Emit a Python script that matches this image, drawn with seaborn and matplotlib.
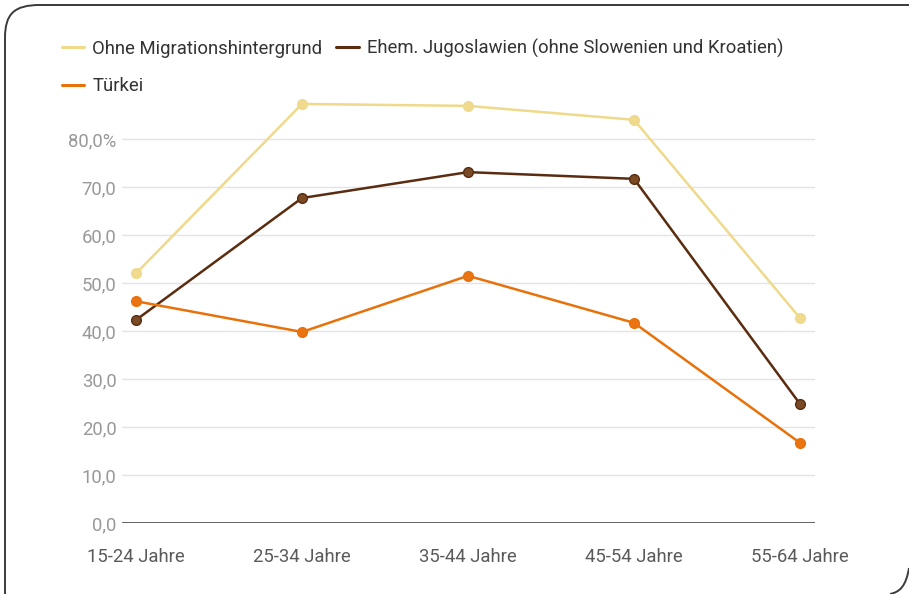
import pandas as pd
import numpy as np
import matplotlib.pyplot as plt
from matplotlib.lines import Line2D
from matplotlib.patches import PathPatch
from matplotlib.path import Path
import seaborn as sns

### Daten
altersgruppen = ["15-24 Jahre", "25-34 Jahre", "35-44 Jahre", "45-54 Jahre", "55-64 Jahre"]
ohne_migration = [52.0, 87.3, 86.9, 84.0, 42.7]
jugoslawien = [42.3, 67.7, 73.1, 71.7, 24.8]
tuerkei = [46.2, 39.8, 51.5, 41.7, 16.7]
y_ticks = [0, 10, 20, 30, 40, 50, 60, 70, 80]
y_labels = ["0,0", "10,0", "20,0", "30,0", "40,0", "50,0", "60,0", "70,0", "80,0%"]

serien = ["Ohne Migrationshintergrund",
          "Ehem. Jugoslawien (ohne Slowenien und Kroatien)",
          "Türkei"]
farben = {serien[0]: "#efd98a", serien[1]: "#5a2c10", serien[2]: "#e8710a"}
marker_farben = {serien[0]: "#f0da8e", serien[1]: "#7a4a24", serien[2]: "#ea7412"}

df = pd.DataFrame({
    "Alter": altersgruppen * 3,
    "Wert": ohne_migration + jugoslawien + tuerkei,
    "Gruppe": [serien[0]] * 5 + [serien[1]] * 5 + [serien[2]] * 5,
})

sns.set_style("white")
plt.rcParams["font.family"] = ["Roboto", "DejaVu Sans"]
fs = 13.3

fig = plt.figure(figsize=(9.09, 5.94), dpi=100)
ax = fig.add_axes([122 / 909, 1 - 523 / 594, (815 - 122) / 909, (523 - 91) / 594])

sns.lineplot(data=df, x="Alter", y="Wert", hue="Gruppe", palette=farben,
             linewidth=1.8, sort=False, ax=ax, legend=False)

### Punkte extra zeichnen (Rand etwas dunkler)
for g in serien:
    sub = df[df["Gruppe"] == g]
    ax.plot(np.arange(len(sub)), sub["Wert"].values, linestyle="none", marker="o",
            markersize=7, markerfacecolor=marker_farben[g], markeredgecolor=farben[g],
            markeredgewidth=1.0, clip_on=False, zorder=4)

ax.set_xlim(-14 / 166, 4 + 15 / 166)
ax.set_ylim(0, 90)
ax.set_yticks(y_ticks)
ax.set_yticklabels(y_labels)
ax.set_xlabel("")
ax.set_ylabel("")
ax.grid(axis="y", color="#e4e4e4", linewidth=1.0)
ax.grid(axis="x", visible=False)
ax.axhline(0, color="#555555", linewidth=2.0, zorder=3)
for s in ax.spines.values():
    s.set_visible(False)
ax.tick_params(axis="y", length=0, pad=4, labelsize=fs, labelcolor="#999999")
ax.tick_params(axis="x", length=0, pad=18, labelsize=fs, labelcolor="#5a5a5a")

### Legende: Reihe 1 Ohne + Jugoslawien, Reihe 2 Türkei
handles = [Line2D([], [], color=farben[g], linewidth=2.2) for g in serien]
order = [0, 2, 1]
fig.legend([handles[i] for i in order], [serien[i] for i in order],
           loc="upper left", bbox_to_anchor=(62 / 909, 1 - 39 / 594), ncol=2,
           frameon=False, fontsize=fs, labelcolor="#333333", borderpad=0,
           borderaxespad=0, handlelength=1.2, handletextpad=0.45,
           columnspacing=0.75, labelspacing=1.05)

### Rahmen mit runden Ecken (oben links, unten rechts)
W, H = 909, 594
def px(x, y):
    return (x / W, 1 - y / H)

verts = [px(5, 594), px(5, 38), px(5, 14), px(14, 5), px(40, 5), px(909, 5)]
codes = [Path.MOVETO, Path.LINETO, Path.CURVE4, Path.CURVE4, Path.CURVE4, Path.LINETO]
fig.add_artist(PathPatch(Path(verts, codes), transform=fig.transFigure,
                         fill=False, edgecolor="#3a3a3a", linewidth=1.4))
verts2 = [px(909, 568), px(906, 586), px(900, 592), px(890, 594)]
codes2 = [Path.MOVETO, Path.CURVE4, Path.CURVE4, Path.CURVE4]
fig.add_artist(PathPatch(Path(verts2, codes2), transform=fig.transFigure,
                         fill=False, edgecolor="#3a3a3a", linewidth=1.4))

fig.savefig("out.png", dpi=100)
